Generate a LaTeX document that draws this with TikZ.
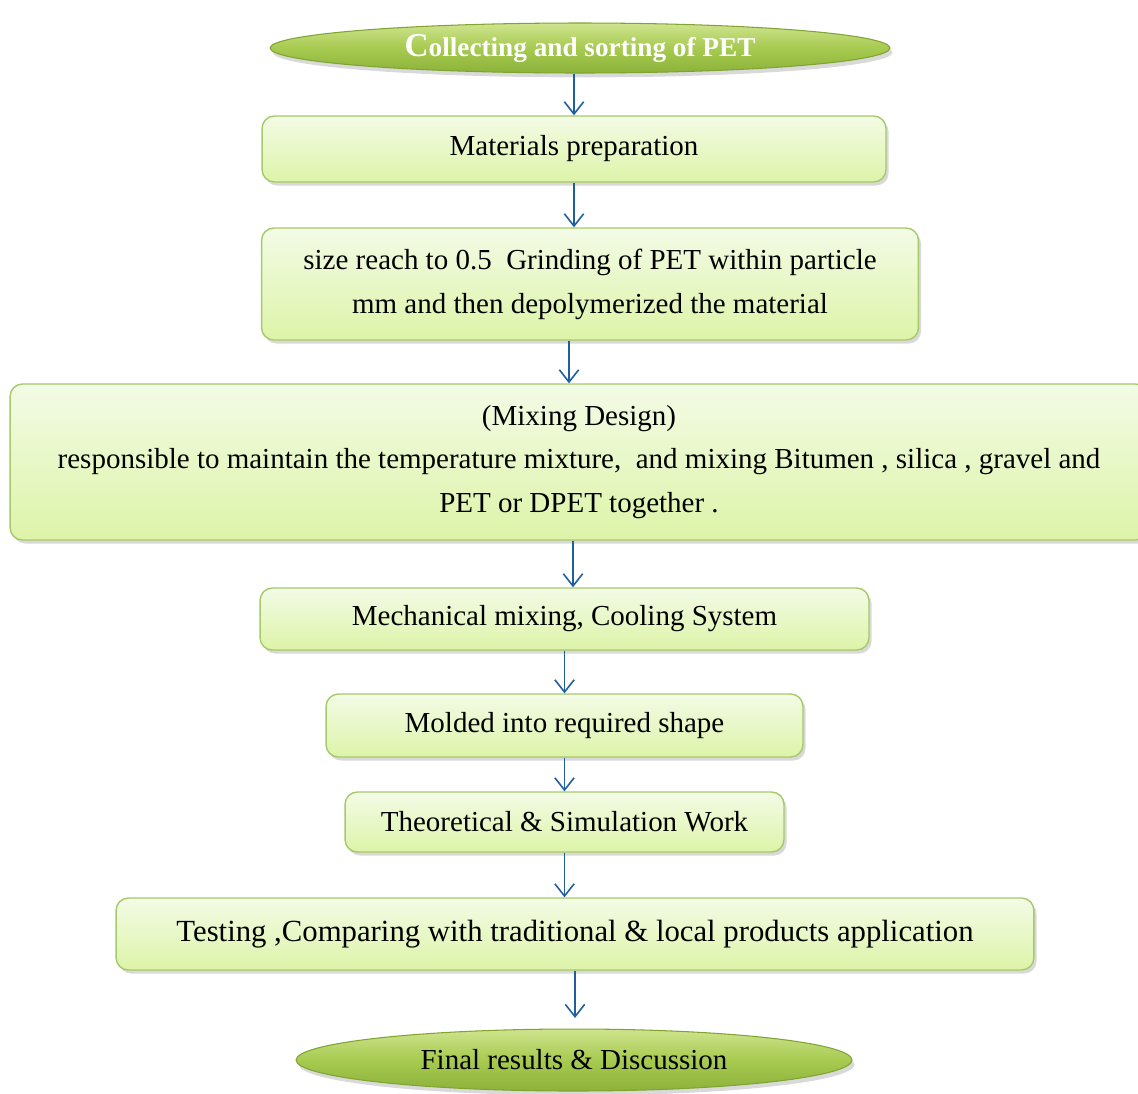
\documentclass[tikz,border=0pt]{standalone}
\usepackage{fontspec}
\setmainfont{Liberation Serif}
\usetikzlibrary{shapes.geometric,shadows,arrows.meta}

\definecolor{boxtop}{HTML}{F3FBE6}
\definecolor{boxbot}{HTML}{DDF4A8}
\definecolor{boxedge}{HTML}{A6C96A}
\definecolor{ovaltop}{HTML}{CFE48E}
\definecolor{ovalmid}{HTML}{A7CA50}
\definecolor{ovalbot}{HTML}{8DB23A}
\definecolor{ovaledge}{HTML}{7FA432}
\definecolor{arrowblue}{HTML}{1F5FA0}

\begin{document}
\begin{tikzpicture}[x=0.02cm,y=-0.02cm,
  box/.style={draw=boxedge, line width=0.8pt, rounded corners=7pt,
    top color=boxtop, bottom color=boxbot, align=center,
    drop shadow={shadow xshift=1.5pt, shadow yshift=-2pt, opacity=0.3},
    font=\fontsize{16.5}{25}\selectfont},
  oval/.style={ellipse, draw=ovaledge, line width=0.6pt, inner sep=0pt,
    top color=ovaltop, bottom color=ovalbot, middle color=ovalmid,
    drop shadow={shadow xshift=1.5pt, shadow yshift=-2.5pt, opacity=0.3},
    font=\fontsize{16.5}{20}\selectfont},
  arr/.style={-{Straight Barb[length=7pt,width=11pt]}, line width=0.9pt, arrowblue}]

  \useasboundingbox (0,0) rectangle (1138,1093);

  % Start and end
  \node[oval, minimum width=12.4cm, minimum height=1cm, text=white,
    font=\bfseries\fontsize{15.5}{20}\selectfont] (collect) at (580,48)
    {{\fontsize{19}{20}\selectfont C}ollecting and sorting of PET};
  \node[oval, minimum width=11.12cm, minimum height=1.24cm] (final) at (574,1060)
    {Final results \& Discussion};

  % Steps
  \node[box, minimum width=12.48cm, minimum height=1.32cm] (prep) at (574,149)
    {Materials preparation};
  \node[box, minimum width=13.14cm, minimum height=2.24cm] (grind) at (590,284)
    {size reach to 0.5~ Grinding of PET within particle\\
     mm and then depolymerized the material};
  \node[box, minimum width=22.76cm, minimum height=3.12cm] (mix) at (579,462)
    {(Mixing Design)\\
     responsible to maintain the temperature mixture,~ and mixing Bitumen , silica , gravel and\\
     PET or DPET together .};
  \node[box, minimum width=12.18cm, minimum height=1.24cm] (mech) at (564.5,619)
    {Mechanical mixing, Cooling System};
  \node[box, minimum width=9.54cm, minimum height=1.26cm] (mold) at (564.5,725.5)
    {Molded into required shape};
  \node[box, minimum width=8.78cm, minimum height=1.2cm] (theory) at (564.5,822)
    {Theoretical \& Simulation Work};
  \node[box, minimum width=18.36cm, minimum height=1.44cm,
    font=\fontsize{17.5}{25}\selectfont] (test) at (575,934)
    {Testing ,Comparing with traditional \& local products application};

  % Arrows
  \draw[arr] (collect.south -| prep.north) -- (prep.north);
  \draw[arr] (prep.south) -- (prep.south |- grind.north);
  \draw[arr] ([xshift=-0.2cm]mix.north |- grind.south) -- ([xshift=-0.2cm]mix.north);
  \draw[arr] ([xshift=-0.12cm]mix.south) -- ([xshift=-0.12cm]mix.south |- mech.north);
  \draw[arr] (mech.south) -- (mech.south |- mold.north);
  \draw[arr] (mold.south) -- (mold.south |- theory.north);
  \draw[arr] (theory.south) -- (theory.south |- test.north);
  \draw[arr, shorten >=6pt] (test.south) -- (test.south |- final.north);

\end{tikzpicture}
\end{document}
